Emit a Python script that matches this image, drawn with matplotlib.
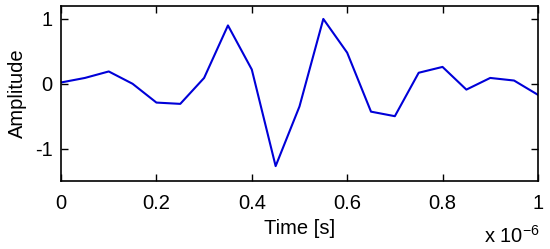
import numpy as np
import matplotlib.pyplot as plt
from matplotlib.ticker import FuncFormatter

plt.rcParams['font.family'] = ['Liberation Sans', 'DejaVu Sans']
plt.rcParams['axes.unicode_minus'] = False

# Signal samples (time in microseconds, scaled to seconds below)
time_us = [0, 0.05, 0.1, 0.15, 0.2, 0.25, 0.3, 0.35, 0.4, 0.45, 0.5,
           0.55, 0.6, 0.65, 0.7, 0.75, 0.8, 0.85, 0.9, 0.95, 1.0]
amplitude = [0.02, 0.09, 0.19, 0.0, -0.29, -0.31, 0.09, 0.90, 0.22, -1.27, -0.35,
             1.0, 0.48, -0.43, -0.5, 0.17, 0.26, -0.09, 0.09, 0.05, -0.17]
time_s = np.array(time_us) * 1e-6

fig = plt.figure(figsize=(5.5, 2.49), dpi=100)
ax = fig.add_axes([0.111, 0.273, 0.867, 0.703])
ax.plot(time_s, amplitude, color='#0000d8', lw=1.5)

ax.set_xlim(0, 1e-6)
ax.set_ylim(-1.5, 1.2)
ax.set_xticks(np.arange(0, 1.01, 0.2) * 1e-6)
ax.set_yticks([-1, 0, 1])
ax.xaxis.set_major_formatter(FuncFormatter(lambda v, p: f'{v / 1e-6:g}'))
ax.tick_params(direction='in', top=True, right=True, length=5, width=1,
               labelsize=14.5)
ax.tick_params(axis='x', pad=9)
ax.tick_params(axis='y', pad=6)
for s in ax.spines.values():
    s.set_linewidth(1.2)

ax.set_xlabel('Time [s]', fontsize=14.5, labelpad=5)
ax.set_ylabel('Amplitude', fontsize=14.5, labelpad=6)
fig.text(0.982, 0.025, r'x 10$^{\mathregular{-6}}$', ha='right', va='baseline', fontsize=14.5)

fig.savefig('out.png', dpi=100)
